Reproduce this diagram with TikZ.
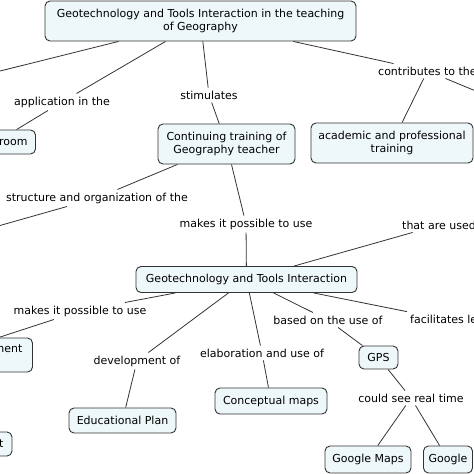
\documentclass[tikz,border=0pt]{standalone}
\usepackage{fontspec}
\setmainfont{DejaVu Sans}
\definecolor{conceptfill}{HTML}{EEF7F9}
\definecolor{conceptline}{HTML}{333333}

\begin{document}
\begin{tikzpicture}[
        x=1pt, y=-1pt,
        concept/.style={draw=conceptline, fill=conceptfill, rounded corners=5pt, line width=0.9pt,
            align=center, inner sep=2pt, font=\fontsize{11}{13.5}\selectfont},
        cut/.style={concept, align=right},
        phrase/.style={inner sep=3pt, font=\fontsize{11}{13.5}\selectfont},
        conn/.style={draw=conceptline, line width=0.8pt}
    ]
    \useasboundingbox (0,0) rectangle (474,474);

    % concepts
    \node[concept, minimum width=311pt, minimum height=40pt] (teaching) at (200.5,21)
        {Geotechnology and Tools Interaction in the teaching\\of Geography};
    \node[cut, minimum width=79pt, minimum height=24pt, text width=63pt, inner xsep=8pt] (room) at (-4,142) {room};
    \node[concept, minimum width=137pt, minimum height=40pt] (training) at (226.5,144)
        {Continuing training of\\Geography teacher};
    \node[concept, minimum width=162pt, minimum height=40pt] (academic) at (392,143)
        {academic and professional\\training};
    \node[concept, minimum width=221pt, minimum height=26pt] (geotech) at (246.5,279.5)
        {Geotechnology and Tools Interaction};
    \node[cut, minimum width=175pt, minimum height=34pt, text width=155pt, inner xsep=10pt] (ment) at (-55,355) {ment\\~};
    \node[cut, minimum width=84pt, minimum height=24pt, text width=67pt, inner xsep=8.5pt] (tnode) at (-30,444) {t};
    \node[concept, minimum width=107pt, minimum height=25pt] (eduplan) at (122.5,420.5) {Educational Plan};
    \node[concept, minimum width=112pt, minimum height=26pt] (cmaps) at (271,401) {Conceptual maps};
    \node[concept, minimum width=39pt, minimum height=23pt] (gps) at (378.5,357.5) {GPS};
    \node[concept, minimum width=86pt, minimum height=27pt] (gmaps) at (368,459.5) {Google Maps};
    \node[concept, minimum width=49pt, minimum height=27pt] (google) at (448,459.5) {Google};

    % linking phrases
    \node[phrase] (application) at (62,102) {application in the};
    \node[phrase] (stimulates) at (209,95) {stimulates};
    \node[phrase, anchor=west] (contributes) at (375,71) {contributes to the};
    \node[phrase] (structure) at (97,198) {structure and organization of the};
    \node[phrase] (possible) at (246,224) {makes it possible to use};
    \node[phrase, anchor=west] (used) at (399,225) {that are used};
    \node[phrase] (possibleleft) at (80,311) {makes it possible to use};
    \node[phrase] (development) at (137,361) {development of};
    \node[phrase] (elaboration) at (262,353) {elaboration and use of};
    \node[phrase] (based) at (328,320) {based on the use of};
    \node[phrase, anchor=west] (facilitates) at (407,319) {facilitates le};
    \node[phrase] (realtime) at (411,398) {could see real time};

    % ends outside the picture
    \coordinate (outtl) at (-40,81);
    \coordinate (outr) at (500,101);
    \coordinate (outl) at (-30,234);

    % connectors
    \draw[conn] (teaching) -- (outtl);
    \draw[conn] (teaching) -- (application) -- (room);
    \draw[conn] (teaching) -- (stimulates) -- (training);
    \draw[conn] (teaching) -- (contributes) -- (academic);
    \draw[conn] (contributes) -- (outr);
    \draw[conn] (training) -- (structure) -- (outl);
    \draw[conn] (training) -- (possible) -- (geotech);
    \draw[conn] (geotech) -- (used);
    \draw[conn] (geotech) -- (possibleleft) -- (ment);
    \draw[conn] (geotech) -- (development) -- (eduplan);
    \draw[conn] (geotech) -- (elaboration) -- (cmaps);
    \draw[conn] (geotech) -- (based) -- (gps);
    \draw[conn] (geotech) -- (facilitates);
    \draw[conn] (gps) -- (realtime);
    \draw[conn] (realtime) -- (gmaps);
    \draw[conn] (realtime) -- (google);
\end{tikzpicture}
\end{document}
